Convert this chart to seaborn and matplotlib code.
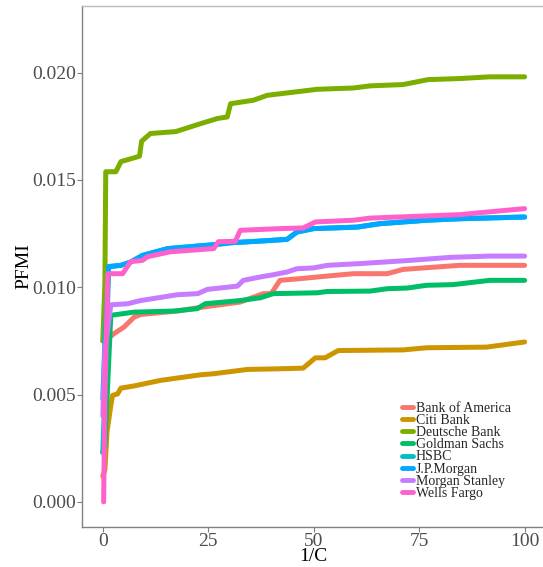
import pandas as pd
import seaborn as sns
import matplotlib.pyplot as plt

# banks, in legend order
banks = ["Bank of America", "Citi Bank", "Deutsche Bank", "Goldman Sachs",
         "HSBC", "J.P.Morgan", "Morgan Stanley", "Wells Fargo"]
colors = ["#F8766D", "#CD9600", "#7CAE00", "#00BE67",
          "#00BFC4", "#00A9FF", "#C77CFF", "#FF61CC"]

# values (x = 1/C, y = PFMI)
boa_x = [0, 0.5, 1.7, 2.6, 5, 7.4, 9, 17.7, 22.4, 32.6, 38, 39.7, 40.2, 42, 46.8, 53.2, 59.4, 67.4, 71.2, 84.6, 100]
boa_y = [0.0075, 0.0076, 0.00769, 0.00783, 0.00814, 0.0086, 0.00873, 0.00889, 0.00904, 0.00931, 0.0097, 0.0097,
         0.00978, 0.01032, 0.0104, 0.01052, 0.01063, 0.01063, 0.01083, 0.01102, 0.01102]

citi_x = [0, 0.5, 1.0, 1.9, 2.3, 3.5, 4.3, 7.4, 13.7, 17.7, 23.2, 26.3, 34.3, 42, 47.5, 50.4, 52.7, 55.8,
          71.2, 76.8, 91, 100]
citi_y = [0.0012, 0.0015, 0.00326, 0.00448, 0.00496, 0.00503, 0.0053, 0.0054, 0.00566, 0.00577, 0.00592,
          0.00597, 0.00617, 0.0062, 0.00623, 0.00671, 0.00671, 0.00705, 0.00708, 0.00718, 0.00721, 0.00745]

db_x = [0, 0.5, 0.7, 3.1, 4.3, 8.7, 9.2, 11.3, 17.3, 23.2, 27.2, 29.5, 30.3, 35.7, 39, 43.7, 50.8, 59.4,
        63.4, 71.2, 77.1, 84.6, 91.7, 100]
db_y = [0.0075, 0.0102, 0.01538, 0.01538, 0.01585, 0.0161, 0.0168, 0.01716, 0.01725, 0.01762, 0.01786,
        0.01793, 0.01855, 0.01871, 0.01894, 0.01905, 0.01922, 0.01928, 0.01938, 0.01944, 0.01967, 0.01972,
        0.0198, 0.0198]

gs_x = [0, 0.5, 1.9, 7.4, 16.8, 22.4, 24.3, 32.6, 37.4, 40.4, 50.8, 53.2, 63.4, 67.4, 72.1, 76.8, 83,
        91.7, 100]
gs_y = [0.0023, 0.0026, 0.00869, 0.00884, 0.00889, 0.009, 0.00923, 0.00938, 0.00951, 0.0097, 0.00974,
        0.0098, 0.00982, 0.00993, 0.00996, 0.01009, 0.01012, 0.01032, 0.01032]

hsbc_x = [0, 0.5, 1.4, 4.3, 6.6, 9.4, 15.4, 26.3, 30.3, 37.4, 43.7, 46, 50, 60.3, 65.7, 76.8, 84.6, 100]
hsbc_y = [0.0023, 0.005, 0.01096, 0.01102, 0.01117, 0.01148, 0.0118, 0.01198, 0.01207, 0.01215, 0.01223,
          0.01257, 0.01273, 0.0128, 0.01296, 0.01312, 0.01319, 0.01327]

jpm_x = [0, 0.5, 1.4, 4.3, 6.6, 9.4, 15.4, 26.3, 30.3, 37.4, 43.7, 46, 50, 60.3, 65.7, 76.8, 84.6, 100]
jpm_y = [0.0048, 0.0075, 0.01096, 0.01102, 0.01117, 0.01148, 0.0118, 0.01198, 0.01207, 0.01215, 0.01223,
         0.01257, 0.01273, 0.0128, 0.01296, 0.01312, 0.01319, 0.01327]

ms_x = [0, 0.5, 1.9, 5.9, 9, 17.7, 22.5, 24.8, 31.9, 33.3, 37.4, 40.4, 43.7, 46, 50, 53.2, 61, 72.8,
        82.3, 91.7, 100]
ms_y = [0.004, 0.007, 0.00918, 0.00923, 0.00938, 0.00965, 0.0097, 0.0099, 0.01005, 0.01032, 0.01048,
        0.01058, 0.01071, 0.01086, 0.0109, 0.01102, 0.0111, 0.01125, 0.01139, 0.01145, 0.01145]

wf_x = [0.2, 0.5, 1.2, 4.7, 6.6, 9.4, 10.6, 16, 26.3, 27.4, 31.4, 32.6, 42, 47.5, 50.4, 59.4, 63.4,
        84.6, 91, 100]
wf_y = [0.0, 0.005, 0.01063, 0.01063, 0.01119, 0.01125, 0.01142, 0.01165, 0.0118, 0.01212, 0.01214,
        0.01265, 0.01273, 0.01276, 0.01304, 0.01312, 0.01322, 0.01338, 0.0135, 0.01366]

series = [(boa_x, boa_y), (citi_x, citi_y), (db_x, db_y), (gs_x, gs_y),
          (hsbc_x, hsbc_y), (jpm_x, jpm_y), (ms_x, ms_y), (wf_x, wf_y)]

frames = []
for name, (xs, ys) in zip(banks, series):
    frames.append(pd.DataFrame({"x": xs, "y": ys, "bank": name}))
df = pd.concat(frames, ignore_index=True)

sns.set_style("white")
plt.rcParams["font.family"] = ["Liberation Serif", "DejaVu Serif"]

fig = plt.figure(figsize=(5.43, 5.67), dpi=100)
# panel runs a little past the right edge of the picture, as in the original
ax = fig.add_axes([81.7 / 543, 40 / 567, 464 / 543, 521 / 567])

sns.lineplot(data=df, x="x", y="y", hue="bank", hue_order=banks,
             palette=dict(zip(banks, colors)), linewidth=3.6, sort=False,
             estimator=None, ax=ax)

ax.set_xlim(-5, 105)
ax.set_ylim(-0.00117, 0.0231)
ax.set_xticks([0, 25, 50, 75, 100])
ax.set_yticks([0.0, 0.005, 0.010, 0.015, 0.020])
ax.set_yticklabels(["0.000", "0.005", "0.010", "0.015", "0.020"])
ax.tick_params(axis="both", labelsize=14, labelcolor="#4D4D4D", color="#7F7F7F",
               length=3.5, width=0.8, direction="out", left=True, bottom=True, pad=0.5)
ax.set_xlabel("1/C", fontsize=14, color="black", labelpad=-1)
ax.set_ylabel("PFMI", fontsize=14, color="black", labelpad=0)

for side in ["left", "bottom"]:
    ax.spines[side].set_color("#808080")
    ax.spines[side].set_linewidth(1.0)
for side in ["top", "right"]:
    ax.spines[side].set_color("#BBBBBB")
    ax.spines[side].set_linewidth(1.0)

leg = ax.legend(loc="lower left", bbox_to_anchor=(0.69, 0.052), frameon=False,
                fontsize=10, handlelength=0.8, handletextpad=0.2, labelspacing=-0.06,
                borderaxespad=0, borderpad=0)
for h in leg.get_lines():
    h.set_linewidth(3.5)

fig.savefig("out.png", dpi=100)
